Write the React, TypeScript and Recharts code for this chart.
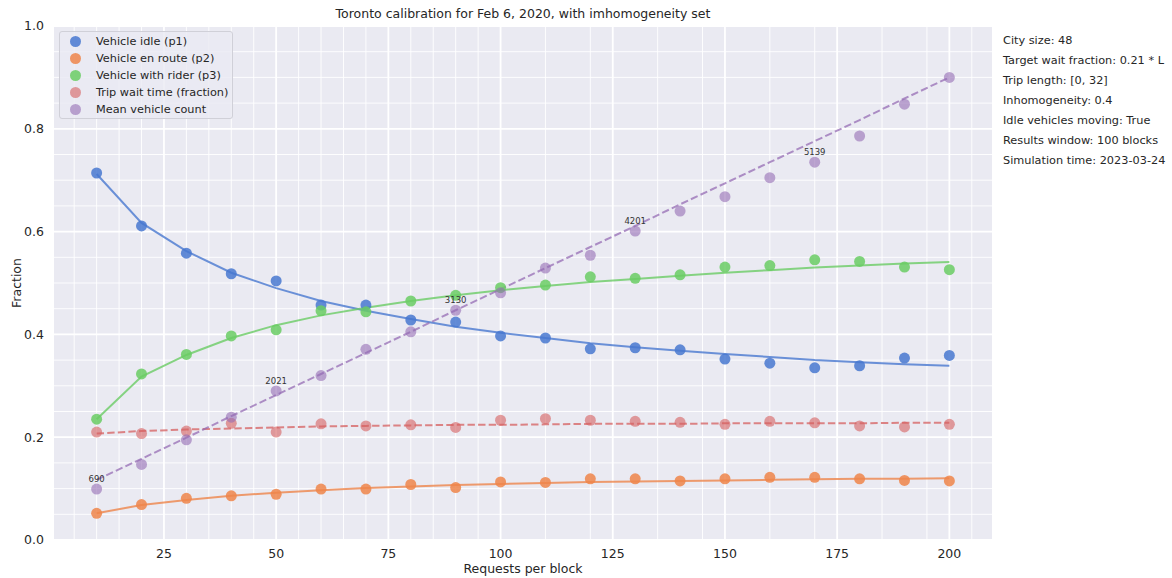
import { ComposedChart, Line, Scatter, XAxis, YAxis, CartesianGrid } from "recharts";

const requests = [10, 20, 30, 40, 50, 60, 70, 80, 90, 100, 110, 120, 130, 140, 150, 160, 170, 180, 190, 200];

// measured points
const idle = [0.714, 0.611, 0.558, 0.518, 0.504, 0.457, 0.457, 0.428, 0.424, 0.397, 0.393, 0.372, 0.374, 0.37, 0.352, 0.344, 0.335, 0.339, 0.354, 0.359];
const enRoute = [0.052, 0.069, 0.081, 0.086, 0.089, 0.099, 0.099, 0.108, 0.102, 0.113, 0.112, 0.119, 0.119, 0.115, 0.119, 0.122, 0.122, 0.119, 0.116, 0.115];
const withRider = [0.235, 0.323, 0.361, 0.397, 0.409, 0.446, 0.444, 0.465, 0.476, 0.491, 0.496, 0.512, 0.509, 0.516, 0.531, 0.534, 0.545, 0.542, 0.531, 0.526];
const waitTime = [0.21, 0.207, 0.212, 0.227, 0.21, 0.226, 0.222, 0.224, 0.219, 0.233, 0.236, 0.233, 0.231, 0.229, 0.225, 0.231, 0.228, 0.222, 0.22, 0.225];
const vehicleCount = [0.099, 0.147, 0.195, 0.239, 0.29, 0.32, 0.371, 0.405, 0.447, 0.481, 0.529, 0.554, 0.601, 0.64, 0.668, 0.705, 0.735, 0.786, 0.848, 0.9];

// fitted curves
const idleFit = [0.712, 0.617, 0.562, 0.52, 0.49, 0.465, 0.446, 0.43, 0.415, 0.403, 0.393, 0.383, 0.375, 0.368, 0.362, 0.356, 0.35, 0.346, 0.342, 0.339];
const enRouteFit = [0.052, 0.068, 0.078, 0.086, 0.092, 0.097, 0.101, 0.104, 0.107, 0.109, 0.111, 0.113, 0.114, 0.115, 0.116, 0.117, 0.118, 0.119, 0.119, 0.12];
const withRiderFit = [0.235, 0.318, 0.36, 0.393, 0.418, 0.437, 0.452, 0.465, 0.476, 0.486, 0.494, 0.502, 0.508, 0.514, 0.52, 0.525, 0.53, 0.534, 0.538, 0.541];
const waitTimeFit = [0.207, 0.212, 0.215, 0.217, 0.219, 0.221, 0.222, 0.223, 0.224, 0.224, 0.225, 0.226, 0.226, 0.226, 0.227, 0.227, 0.227, 0.227, 0.228, 0.228];
const vehicleCountFit = [0.117, 0.158, 0.199, 0.241, 0.282, 0.323, 0.364, 0.405, 0.447, 0.488, 0.529, 0.57, 0.611, 0.653, 0.694, 0.735, 0.776, 0.817, 0.859, 0.9];

const countNotes = ["690", "", "", "", "2021", "", "", "", "3130", "", "", "", "4201", "", "", "", "5139", "", "", ""];

const xTicks = [25, 50, 75, 100, 125, 150, 175, 200];
const yTicks = [0, 0.2, 0.4, 0.6, 0.8, 1.0];
const xMinor = [5, 10, 15, 20, 30, 35, 40, 45, 55, 60, 65, 70, 80, 85, 90, 95, 105, 110, 115, 120, 130, 135, 140, 145, 155, 160, 165, 170, 180, 185, 190, 195, 205];
const yMinor = [0.05, 0.1, 0.15, 0.25, 0.3, 0.35, 0.45, 0.5, 0.55, 0.65, 0.7, 0.75, 0.85, 0.9, 0.95];

const legendItems = [
  { label: "Vehicle idle (p1)", color: "#4878D0", alpha: 0.85 },
  { label: "Vehicle en route (p2)", color: "#EE854A", alpha: 0.85 },
  { label: "Vehicle with rider (p3)", color: "#6ACC64", alpha: 0.85 },
  { label: "Trip wait time (fraction)", color: "#D65F5F", alpha: 0.6 },
  { label: "Mean vehicle count", color: "#956CB4", alpha: 0.6 },
];

const sideNotes = [
  "City size: 48",
  "Target wait fraction: 0.21 * L",
  "Trip length: [0, 32]",
  "Inhomogeneity: 0.4",
  "Idle vehicles moving: True",
  "Results window: 100 blocks",
  "Simulation time: 2023-03-24",
];

const chartData = requests.map((x, i) => ({
  x,
  idle: idle[i],
  enRoute: enRoute[i],
  withRider: withRider[i],
  waitTime: waitTime[i],
  vehicleCount: vehicleCount[i],
  idleFit: idleFit[i],
  enRouteFit: enRouteFit[i],
  withRiderFit: withRiderFit[i],
  waitTimeFit: waitTimeFit[i],
  vehicleCountFit: vehicleCountFit[i],
  note: countNotes[i],
}));

const FONT = "'DejaVu Sans', sans-serif";
const TEXT = "#262626";

const dot = (color: string, alpha: number) => (props: any) =>
  <circle cx={props.cx} cy={props.cy} r={5.5} fill={color} fillOpacity={alpha} />;

const countDot = (props: any) => (
  <g>
    <circle cx={props.cx} cy={props.cy} r={5.5} fill="#956CB4" fillOpacity={0.6} />
    {props.payload?.note ? (
      <text x={props.cx} y={props.cy - 7} textAnchor="middle" fontSize={8.5} fontFamily={FONT} fill="#333">
        {props.payload.note}
      </text>
    ) : null}
  </g>
);

export default function App() {
  return (
    <div style={{ position: "absolute", left: 0, top: 0, width: 1172, height: 578, background: "#fff", fontFamily: FONT, color: TEXT, overflow: "hidden" }}>
      <ComposedChart width={1172} height={578} data={chartData} margin={{ top: 26, right: 180, bottom: 0, left: 8 }}>
        <CartesianGrid fill="#EAEAF2" stroke="#ffffff" strokeWidth={0.9} verticalValues={xMinor} horizontalValues={yMinor} />
        <CartesianGrid stroke="#ffffff" strokeWidth={1.8} fillOpacity={0} verticalValues={xTicks} horizontalValues={yTicks} />
        <XAxis
          type="number"
          dataKey="x"
          domain={[0.5, 209.5]}
          ticks={xTicks}
          allowDataOverflow
          axisLine={false}
          tickLine={false}
          tickSize={0}
          tickMargin={9}
          height={38}
          tick={{ fill: TEXT, fontSize: 12.5, fontFamily: FONT }}
        />
        <YAxis
          type="number"
          domain={[0, 1]}
          ticks={yTicks}
          tickFormatter={(v: number) => v.toFixed(1)}
          axisLine={false}
          tickLine={false}
          tickSize={0}
          tickMargin={10}
          width={46}
          tick={{ fill: TEXT, fontSize: 12.5, fontFamily: FONT }}
        />
        <Line type="linear" dataKey="idleFit" stroke="#4878D0" strokeOpacity={0.8} strokeWidth={2} dot={false} isAnimationActive={false} />
        <Line type="linear" dataKey="enRouteFit" stroke="#EE854A" strokeOpacity={0.8} strokeWidth={2} dot={false} isAnimationActive={false} />
        <Line type="linear" dataKey="withRiderFit" stroke="#6ACC64" strokeOpacity={0.8} strokeWidth={2} dot={false} isAnimationActive={false} />
        <Line type="linear" dataKey="waitTimeFit" stroke="#D65F5F" strokeOpacity={0.75} strokeWidth={2} strokeDasharray="7.4 3.2" dot={false} isAnimationActive={false} />
        <Line type="linear" dataKey="vehicleCountFit" stroke="#956CB4" strokeOpacity={0.75} strokeWidth={2} strokeDasharray="7.4 3.2" dot={false} isAnimationActive={false} />
        <Scatter dataKey="idle" fill="#4878D0" shape={dot("#4878D0", 0.85)} isAnimationActive={false} />
        <Scatter dataKey="enRoute" fill="#EE854A" shape={dot("#EE854A", 0.85)} isAnimationActive={false} />
        <Scatter dataKey="withRider" fill="#6ACC64" shape={dot("#6ACC64", 0.85)} isAnimationActive={false} />
        <Scatter dataKey="waitTime" fill="#D65F5F" shape={dot("#D65F5F", 0.6)} isAnimationActive={false} />
        <Scatter dataKey="vehicleCount" fill="#956CB4" shape={countDot} isAnimationActive={false} />
      </ComposedChart>

      <div style={{ position: "absolute", left: 54, top: 6, width: 938, textAlign: "center", fontSize: 12.5 }}>
        Toronto calibration for Feb 6, 2020, with imhomogeneity set
      </div>
      <div style={{ position: "absolute", left: 54, top: 561, width: 938, textAlign: "center", fontSize: 12.5 }}>
        Requests per block
      </div>
      <div
        style={{
          position: "absolute",
          left: 16,
          top: 283,
          transform: "translate(-50%, -50%) rotate(-90deg)",
          fontSize: 12.5,
          whiteSpace: "nowrap",
        }}
      >
        Fraction
      </div>

      <div
        style={{
          position: "absolute",
          left: 59,
          top: 31,
          width: 174,
          height: 88,
          boxSizing: "border-box",
          background: "rgba(234,234,242,0.8)",
          border: "1px solid #d0d0d8",
          borderRadius: 3,
          paddingTop: 1,
        }}
      >
        {legendItems.map((it) => (
          <div key={it.label} style={{ display: "flex", alignItems: "center", height: 17, fontSize: 11.3, whiteSpace: "nowrap" }}>
            <span
              style={{
                display: "inline-block",
                flexShrink: 0,
                width: 11,
                height: 11,
                borderRadius: "50%",
                background: it.color,
                opacity: it.alpha,
                marginLeft: 10,
                marginRight: 15,
              }}
            />
            <span>{it.label}</span>
          </div>
        ))}
      </div>

      <div style={{ position: "absolute", left: 1003, top: 31, fontSize: 11.3, lineHeight: "20px", whiteSpace: "nowrap" }}>
        {sideNotes.map((s) => (
          <div key={s}>{s}</div>
        ))}
      </div>
    </div>
  );
}
